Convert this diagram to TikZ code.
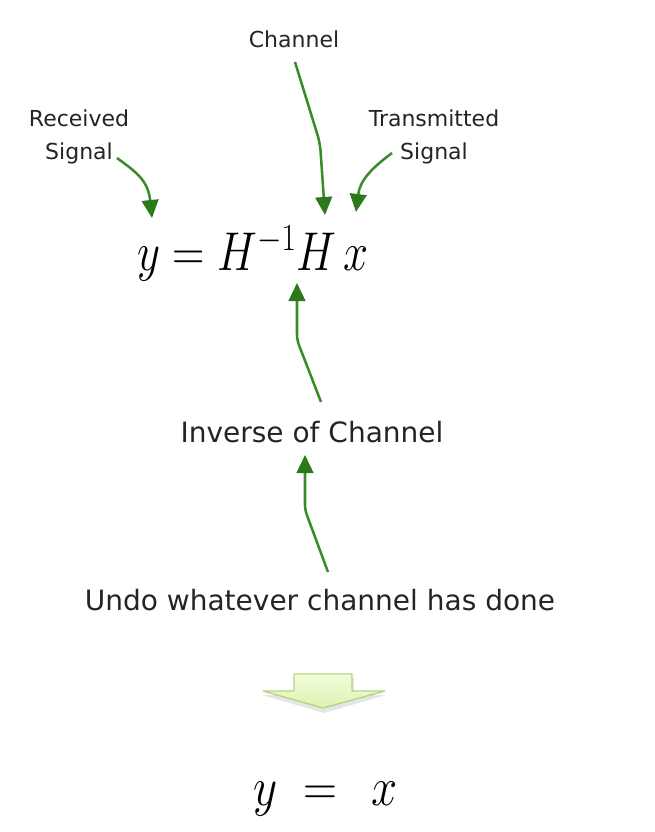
\RequirePackage{fix-cm}
\documentclass[tikz,border=0pt]{standalone}
\usepackage[no-math]{fontspec}
\newfontfamily\labfont{DejaVu Sans}
\usetikzlibrary{arrows.meta}
\definecolor{arrowgreen}{RGB}{58,140,40}
\definecolor{headgreen}{RGB}{44,120,28}
\definecolor{blockfillA}{RGB}{242,252,220}
\definecolor{blockfillB}{RGB}{222,243,178}
\definecolor{blockedge}{RGB}{178,214,128}
\definecolor{txt}{RGB}{36,36,36}
\tikzset{
  small label/.style={font=\labfont\fontsize{16.5}{24.5}\selectfont, text=txt, align=center, inner sep=0pt},
  big label/.style={font=\labfont\fontsize{21}{25}\selectfont, text=txt, inner sep=0pt},
  eqtext/.style={font=\fontsize{41}{48}\selectfont, inner sep=0pt, anchor=base west},
  pointer/.style={draw=arrowgreen, line width=1.9pt, line join=round,
    -{Triangle[length=13.5pt,width=12.5pt,fill=headgreen,color=headgreen]}},
}
\begin{document}
\begin{tikzpicture}[x=0.75pt,y=-0.75pt]
\useasboundingbox (0,0) rectangle (654,832);

% labels
\node[small label] (chan) at (294,39) {Channel};
\node[small label] (rec) at (79,137) {Received\\Signal};
\node[small label] (trans) at (434,137) {Transmitted\\Signal};
\node[big label] (inv) at (312,432) {Inverse of Channel};
\node[big label] (undo) at (320,600) {Undo whatever channel has done};

% equations
\node[eqtext] (eq) at (137,270) {\scalebox{0.82}[1]{$y = H^{-1}H\,x$}};
\node[eqtext] (eqb) at (253,805) {\scalebox{0.86}[1]{$y\;=\;\,x$}};

% connector end points
\coordinate (recS) at (117,158);
\coordinate (recT) at (152,218);
\coordinate (chS) at (295,62);
\coordinate (chM) at (320,143);
\coordinate (chT) at (325,215);
\coordinate (trS) at (392,153);
\coordinate (trT) at (356,212);
\coordinate (invS) at (321,402);
\coordinate (invM) at (297,340);
\coordinate (invT) at (297,283);
\coordinate (unS) at (328,572);
\coordinate (unM) at (305,510);
\coordinate (unT) at (305,455);

\draw[pointer] (recS) .. controls (136,172) and (148,180) .. (recT);
\draw[pointer, rounded corners=6pt] (chS) -- (chM) -- (chT);
\draw[pointer] (trS) .. controls (372,168) and (360,180) .. (trT);
\draw[pointer, rounded corners=4pt] (invS) -- (invM) -- (invT);
\draw[pointer, rounded corners=4pt] (unS) -- (unM) -- (unT);

% block arrow
\fill[black, opacity=0.10] (296,678) -- (354,678) -- (354,695) -- (386,695) -- (324,713) -- (262,695) -- (296,695) -- cycle;
\draw[blockedge, line width=1pt, top color=blockfillA, bottom color=blockfillB, line join=round]
  (294,674) -- (352,674) -- (352,691) -- (385,691) -- (323,708) -- (263,691) -- (294,691) -- cycle;
\end{tikzpicture}
\end{document}
